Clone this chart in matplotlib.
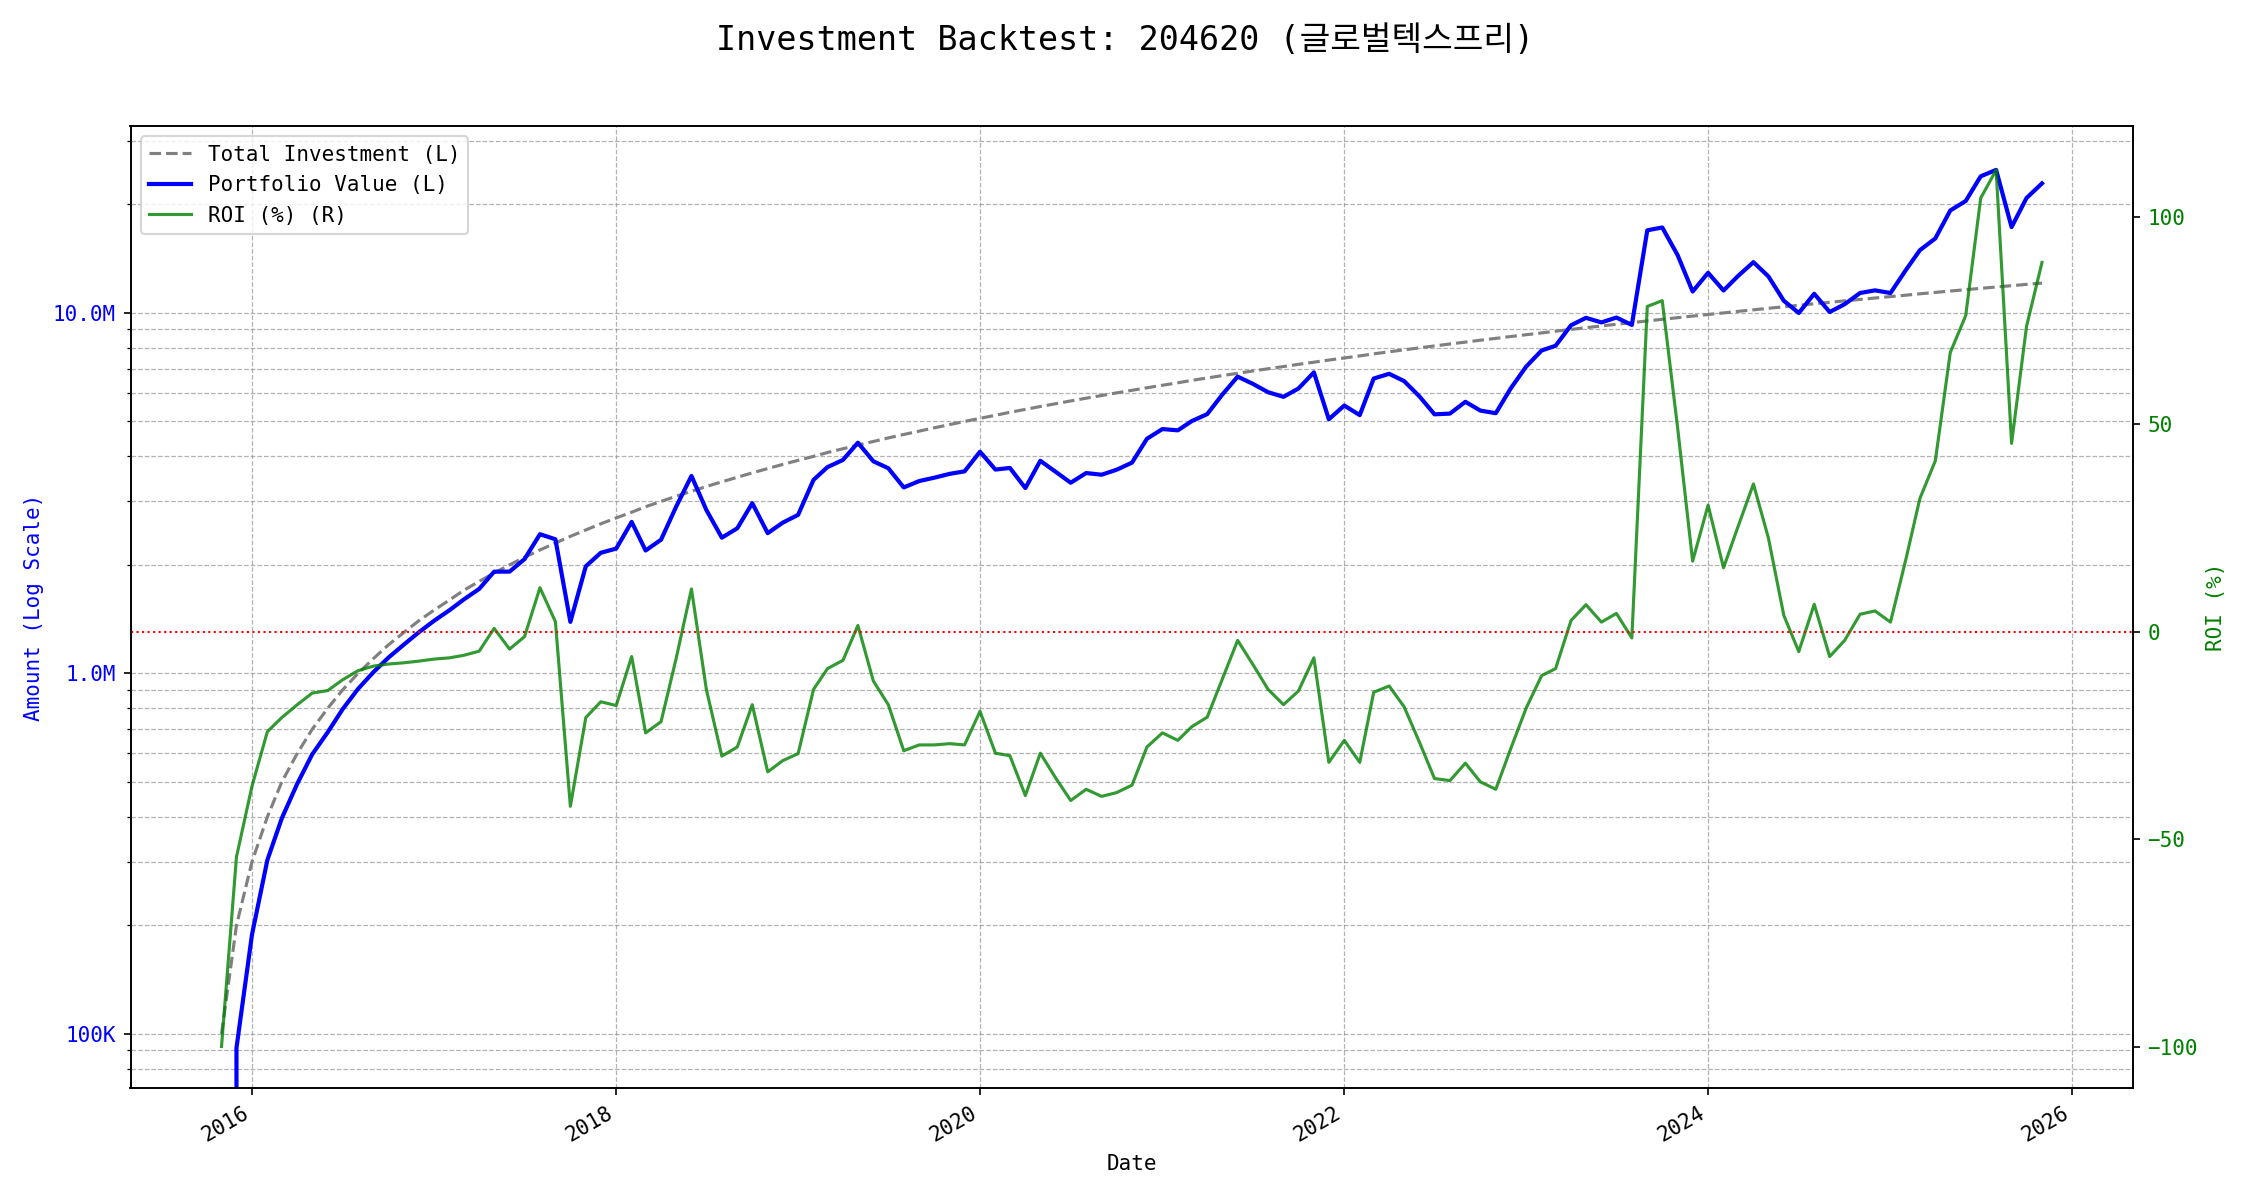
import numpy as np
import pandas as pd
import matplotlib
matplotlib.use('Agg')
import matplotlib.pyplot as plt
import matplotlib.ticker as mticker

# font: mono + korean fallback
plt.rcParams['font.family'] = ['DejaVu Sans Mono', 'Noto Sans CJK KR']
plt.rcParams['font.size'] = 10

ticker_code = '204620'
ticker_name = '글로벌텍스프리'

# monthly dates (first of month), Nov 2015 .. Nov 2025
dates = pd.date_range('2015-11-01', '2025-11-01', freq='MS')
monthly_deposit = 100000

# ROI (%), one value per month
roi_pct = [
    -100.0, -54.3, -37.3, -24.1, -20.7, -17.6, -14.8, -14.2, -11.6, -9.4,
    -8.3, -7.8, -7.5, -7.1, -6.6, -6.3, -5.7, -4.7, 0.8, -4.2,
    -1.2, 10.6, 2.4, -42.1, -20.7, -16.9, -17.8, -6.0, -24.4, -21.7,
    -6.6, 10.3, -14.0, -30.0, -27.8, -17.6, -33.8, -31.1, -29.4, -13.9,
    -8.9, -6.9, 1.5, -11.9, -17.6, -28.7, -27.3, -27.3, -27.0, -27.3,
    -19.2, -29.3, -29.9, -39.5, -29.3, -35.3, -40.7, -38.0, -39.7, -38.8,
    -37.0, -27.8, -24.4, -26.2, -22.9, -20.6, -11.5, -2.1, -7.8, -13.9,
    -17.6, -14.3, -6.3, -31.5, -26.2, -31.5, -14.6, -13.1, -18.1, -26.7,
    -35.4, -35.9, -31.7, -36.2, -38.0, -28.2, -18.4, -10.6, -8.9, 2.7,
    6.5, 2.3, 4.4, -1.5, 78.4, 79.8, 49.0, 17.0, 30.5, 15.4,
    25.3, 35.6, 22.6, 3.9, -4.8, 6.6, -6.0, -2.1, 4.2, 5.0,
    2.3, 17.5, 32.1, 41.2, 67.3, 76.2, 104.5, 111.3, 45.4, 73.6,
    89.0,
]

roi_pct = np.array(roi_pct)
total_investment = monthly_deposit * np.arange(1, len(roi_pct) + 1)
portfolio_value = total_investment * (1 + roi_pct / 100)

fig, ax1 = plt.subplots(figsize=(15, 8), dpi=150)
fig.subplots_adjust(left=0.058, right=0.948, top=0.895, bottom=0.093)

l1, = ax1.plot(dates, total_investment, color='gray', linestyle='--', linewidth=1.5,
               label='Total Investment (L)')
l2, = ax1.plot(dates, portfolio_value, color='blue', linewidth=2,
               label='Portfolio Value (L)')
ax1.set_yscale('log')
ax1.set_ylim(70600, 3.3e7)
ax1.set_xlabel('Date')
ax1.set_ylabel('Amount (Log Scale)', color='blue')
ax1.tick_params(axis='y', labelcolor='blue')


def amount_fmt(x, pos):
    if x >= 1e6:
        return f'{x / 1e6:.1f}M'
    if x >= 1e3:
        return f'{x / 1e3:.0f}K'
    return f'{x:.0f}'


ax1.yaxis.set_major_formatter(mticker.FuncFormatter(amount_fmt))
ax1.yaxis.set_minor_formatter(mticker.NullFormatter())
ax1.grid(True, which='both', linestyle='--', linewidth=0.6, color='gray', alpha=0.6)

ax2 = ax1.twinx()
l3, = ax2.plot(dates, roi_pct, color='green', linewidth=1.5, alpha=0.8, label='ROI (%) (R)')
ax2.axhline(0, color='red', linestyle=':', linewidth=1)
ax2.set_ylabel('ROI (%)', color='green')
ax2.tick_params(axis='y', labelcolor='green')
ax2.set_ylim(-110.1, 121.9)

ax1.legend(handles=[l1, l2, l3], loc='upper left')
fig.autofmt_xdate()
fig.subplots_adjust(left=0.058, right=0.948, top=0.895, bottom=0.093)

fig.suptitle(f'Investment Backtest: {ticker_code} ({ticker_name})', fontsize=16, y=0.98)

plt.savefig('out.png', dpi=150)
